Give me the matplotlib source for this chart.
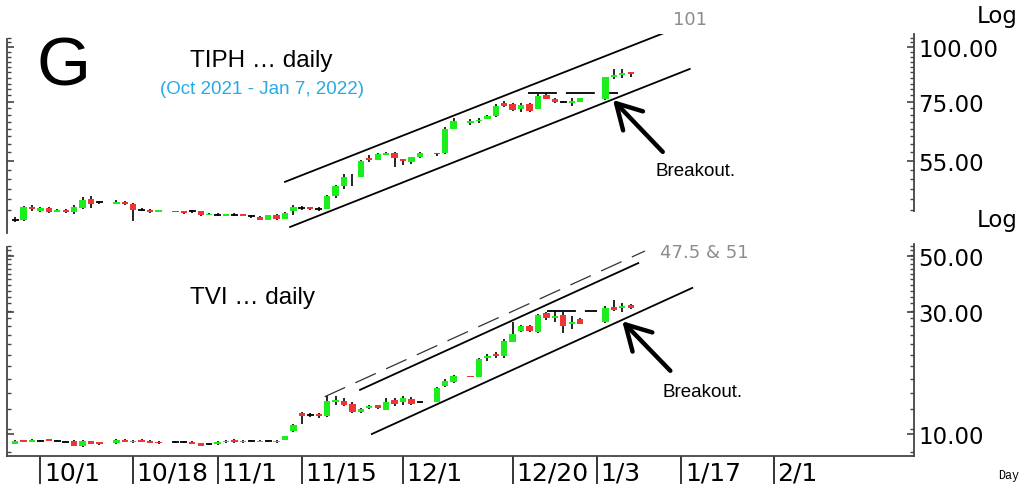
import matplotlib
matplotlib.use('Agg')
import matplotlib.pyplot as plt
from matplotlib.ticker import FixedLocator, NullFormatter
import numpy as np
import pandas as pd

# trading days shown (weekday axis), Sep 28 2021 - Jan 7 2022
dates = pd.bdate_range('2021-09-28', '2022-01-07')

# TIPH daily OHLC (None = no bar)
tiph_o = [40.3, 40.2, 43.0, 42.1, 42.8, 42.0, 42.4, 42.0, 42.8, 45.0, 44.2, None,
          43.8, 44.2, 43.9, 42.5, 42.4, 42.0, None, 42.2, 42.1, 42.1, 42.2, 41.4,
          41.4, 41.2, 41.4, 41.5, 41.0, 40.8, 40.3, 41.3, 40.5, 42.1, 42.9, 43.0,
          42.7, 42.7, 45.6, 48.2, 50.6, 50.6, 55.7, 55.3, 56.8, 57.2, 55.5, 54.5,
          56.0, None, 57.3, 57.3, 65.0, None, 67.2, 67.8, 68.5, 69.5, 74.5, 74.1,
          72.2, 74.1, 72.2, 77.7, 76.1, 75.0, 74.5, 75.0, None, None, 76.1, 85.3,
          86.3, 87.6]
tiph_h = [40.8, 43.4, 43.6, 43.1, 43.0, 42.7, 42.6, 43.6, 45.4, 45.6, 44.5, None,
          44.8, 44.4, 44.1, 42.9, 42.6, 42.5, None, 42.3, 42.3, 42.4, 42.3, 41.7,
          41.8, 41.6, 41.7, 41.6, 41.3, 41.0, 41.4, 41.5, 42.0, 43.6, 43.3, 43.2,
          43.2, 45.8, 48.5, 51.3, 51.3, 55.3, 56.7, 57.3, 57.5, 57.5, 55.5, 56.2,
          57.5, None, 57.4, 65.5, 68.7, None, 68.3, 68.7, 69.8, 74.1, 75.4, 74.5,
          74.5, 74.5, 78.0, 78.5, 76.5, 75.4, 76.3, 76.5, None, None, 85.5, 89.1,
          89.1, 87.8]
tiph_l = [39.8, 40.0, 42.1, 41.9, 41.7, 41.9, 41.7, 41.6, 42.6, 42.8, 43.9, None,
          43.7, 43.6, 40.0, 42.2, 41.8, 41.9, None, 41.9, 41.5, 41.8, 41.2, 41.3,
          41.0, 41.1, 41.1, 41.1, 40.6, 40.2, 40.2, 40.3, 40.4, 41.3, 42.5, 42.5,
          42.1, 42.6, 45.2, 47.4, 48.2, 50.4, 54.5, 55.1, 56.6, 53.1, 53.8, 54.1,
          55.8, None, 56.5, 57.0, 64.8, None, 66.4, 67.2, 68.3, 69.3, 72.8, 71.4,
          70.9, 71.0, 72.0, 76.0, 74.5, 74.6, 73.5, 74.8, None, None, 75.8, 84.5,
          84.9, 85.3]
tiph_c = [40.3, 43.2, 42.7, 42.9, 42.0, 42.5, 42.0, 43.2, 44.8, 43.8, 44.2, None,
          44.2, 43.8, 42.4, 42.5, 41.95, 42.35, None, 42.0, 41.7, 42.1, 41.4, 41.6,
          41.4, 41.5, 41.4, 41.2, 41.0, 40.3, 41.3, 40.5, 41.8, 43.2, 42.9, 42.7,
          42.7, 45.6, 48.2, 50.6, 50.4, 55.0, 55.2, 57.0, 57.2, 55.7, 55.0, 56.0,
          57.3, None, 57.0, 65.0, 67.9, None, 67.8, 68.1, 69.5, 73.5, 73.5, 71.9,
          73.7, 71.5, 77.4, 76.1, 74.8, 75.0, 75.4, 76.3, None, None, 85.3, 86.3,
          87.2, 86.8]

# TVI daily OHLC
tvi_o = [9.14, 9.47, 9.33, 9.41, 9.56, 9.41, 9.33, 9.41, 8.95, 9.36, 9.28, None,
         9.19, 9.50, 9.28, 9.50, 9.41, 9.33, None, 9.28, 9.28, 9.33, 9.19, 9.10,
         9.10, 9.28, 9.50, 9.28, 9.41, 9.33, 9.41, 9.28, 9.47, 10.25, 12.13, 11.87,
         11.98, 11.73, 13.4, 13.5, 13.1, 12.16, 12.6, 12.95, 12.45, 13.6, 13.3, 13.7,
         13.3, None, 13.4, 15.4, 16.0, None, 16.85, 16.8, 19.8, 20.6, 20.3, 23.0,
         25.3, 26.6, 25.2, 29.7, 28.4, 29.2, 27.0, 28.2, None, None, 27.4, 31.4,
         31.1, 32.0]
tvi_h = [9.45, 9.50, 9.55, 9.50, 9.60, 9.47, 9.40, 9.45, 9.45, 9.42, 9.30, None,
         9.60, 9.55, 9.45, 9.55, 9.45, 9.36, None, 9.35, 9.38, 9.36, 9.22, 9.14,
         9.36, 9.45, 9.55, 9.45, 9.47, 9.45, 9.47, 9.45, 9.82, 10.90, 12.15, 12.10,
         12.05, 14.13, 14.1, 13.8, 13.3, 12.6, 13.0, 13.0, 13.9, 13.9, 14.1, 14.0,
         13.4, None, 15.3, 16.5, 17.0, None, 16.9, 19.9, 20.6, 20.9, 23.6, 27.4,
         26.8, 26.8, 29.5, 30.2, 30.5, 30.2, 28.9, 28.4, None, None, 31.7, 33.6,
         32.5, 32.3]
tvi_l = [9.10, 9.30, 9.30, 9.35, 9.38, 9.35, 9.28, 8.95, 8.93, 9.10, 9.05, None,
         9.15, 9.30, 9.25, 9.30, 9.18, 9.15, None, 9.20, 9.18, 9.10, 8.95, 9.05,
         9.05, 9.25, 9.25, 9.25, 9.36, 9.30, 9.36, 9.25, 9.45, 10.20, 10.95, 11.70,
         11.60, 11.70, 13.0, 12.9, 12.1, 12.1, 12.5, 12.5, 12.4, 12.9, 13.0, 13.0,
         13.2, None, 13.3, 15.3, 15.9, None, 16.7, 16.7, 19.4, 19.9, 19.9, 22.9,
         25.2, 25.2, 25.0, 28.1, 27.6, 25.0, 25.7, 27.0, None, None, 27.3, 30.5,
         30.2, 31.0]
tvi_c = [9.41, 9.33, 9.50, 9.41, 9.41, 9.41, 9.33, 9.00, 9.41, 9.14, 9.14, None,
         9.47, 9.33, 9.41, 9.33, 9.22, 9.19, None, 9.28, 9.28, 9.14, 9.00, 9.10,
         9.33, 9.41, 9.28, 9.41, 9.41, 9.41, 9.41, 9.41, 9.79, 10.85, 11.73, 11.87,
         11.73, 13.51, 13.6, 13.0, 12.16, 12.53, 12.9, 12.6, 13.3, 13.1, 13.8, 13.1,
         13.3, None, 15.2, 16.2, 16.9, None, 16.8, 19.7, 20.2, 20.2, 23.2, 24.7,
         26.6, 25.3, 29.3, 28.4, 28.9, 26.6, 27.6, 27.1, None, None, 31.1, 30.7,
         31.9, 31.1]

# trend channels (day index from Oct 1, price)
tiph_upper = ([29.0, 74.4], [49.2, 108.5])
tiph_lower = ([29.6, 77.0], [38.8, 89.1])
tiph_resist = ([57.8, 68.5], [78.5, 78.5])
tvi_lower = ([39.3, 77.3], [10.0, 37.4])
tvi_upper = ([37.9, 70.9], [14.9, 46.8])
tvi_upper2 = ([33.7, 71.7], [14.0, 52.2])
tvi_resist = ([60.1, 66.0], [30.4, 30.4])

tick_dates = ['2021-10-01', '2021-10-18', '2021-11-01', '2021-11-15', '2021-12-01',
              '2021-12-20', '2022-01-03', '2022-01-17', '2022-02-01']
tick_labels = ['10/1', '10/18', '11/1', '11/15', '12/1', '12/20', '1/3', '1/17', '2/1']

UP = '#1bef1b'
DOWN = '#f03434'
TITLE_FONT = ['Liberation Sans', 'DejaVu Sans']


def day_index(d):
    return int(np.busday_count(np.datetime64('2021-10-01'), np.datetime64(pd.Timestamp(d).date())))


xs = np.array([day_index(d) for d in dates])


def candles(ax, o, h, l, c):
    for x, oo, hh, ll, cc in zip(xs, o, h, l, c):
        if oo is None:
            continue
        ax.vlines(x, ll, hh, color='black', lw=1.2, zorder=2)
        if cc == oo:
            ax.hlines(oo, x - 0.4, x + 0.4, color='black', lw=1.3, zorder=3)
        else:
            col = UP if cc > oo else DOWN
            ax.bar(x, abs(cc - oo), bottom=min(oo, cc), width=0.75, color=col,
                   edgecolor='none', zorder=3)


fig = plt.figure(figsize=(10.24, 4.85), dpi=100)
ax1 = fig.add_axes([7 / 1024, 1 - 237 / 485, 907 / 1024, 202 / 485])
ax2 = fig.add_axes([7 / 1024, 1 - 457 / 485, 907 / 1024, 212 / 485])

candles(ax1, tiph_o, tiph_h, tiph_l, tiph_c)
candles(ax2, tvi_o, tvi_h, tvi_l, tvi_c)

for ax in (ax1, ax2):
    ax.set_yscale('log')
    ax.set_xlim(-3.97, 103.6)
    ax.spines['top'].set_visible(False)
    for s in ('left', 'right', 'bottom'):
        ax.spines[s].set_color('#444444')
        ax.spines[s].set_linewidth(1.3)
    ax.yaxis.set_ticks_position('both')
    ax.tick_params(axis='y', which='both', direction='in', labelleft=False,
                   labelright=True, colors='#444444', labelcolor='black',
                   labelsize=16.5, pad=3)
    ax.tick_params(axis='y', which='major', length=5, width=1.2)
    ax.tick_params(axis='y', which='minor', length=3, width=1)
    ax.yaxis.set_minor_formatter(NullFormatter())

# top panel
ax1.set_ylim(37.0, 107.1)
ax1.spines['bottom'].set_visible(False)
ax1.spines['left'].set_bounds(37.5, 104.3)
ax1.spines['right'].set_bounds(42.2, 107.1)
ax1.yaxis.set_major_locator(FixedLocator([55, 75, 100]))
ax1.set_yticklabels(['55.00', '75.00', '100.00'])
ax1.yaxis.set_minor_locator(FixedLocator(np.arange(42.5, 107, 2.5)))
ax1.tick_params(axis='x', bottom=False, labelbottom=False)

ax1.plot(*tiph_upper, color='black', lw=1.3)
ax1.plot(*tiph_lower, color='black', lw=1.3)
ax1.plot(*tiph_resist, color='black', lw=1.3, dashes=(16, 5))

# bottom panel
ax2.set_ylim(8.2, 55.6)
ax2.spines['left'].set_bounds(8.2, 54.1)
ax2.yaxis.set_major_locator(FixedLocator([10, 30, 50]))
ax2.set_yticklabels(['10.00', '30.00', '50.00'])
ax2.yaxis.set_minor_locator(FixedLocator(np.arange(8.5, 55, 2.0)))

ax2.plot(*tvi_lower, color='black', lw=1.3)
ax2.plot(*tvi_upper, color='black', lw=1.3)
ax2.plot(*tvi_upper2, color='#333333', lw=0.9, dashes=(18, 9))
ax2.plot(*tvi_resist, color='black', lw=1.3, dashes=(16, 5))

tick_pos = [day_index(d) for d in tick_dates]
ax2.set_xticks(tick_pos)
ax2.tick_params(axis='x', direction='out', length=20, width=1.1, color='black',
                labelbottom=False)
for pos, lab in zip(tick_pos, tick_labels):
    ax2.annotate(lab, xy=(pos, 0), xycoords=('data', 'axes fraction'),
                 xytext=(2.5, -3), textcoords='offset points', ha='left', va='top',
                 fontsize=18, annotation_clip=False)

# breakout arrows
arrow = dict(arrowstyle='->,head_length=0.8,head_width=0.45', lw=3.2,
             color='black', mutation_scale=22, shrinkA=0, shrinkB=0)
ax1.annotate('', xy=(67.9, 75.7), xytext=(73.8, 57.6), arrowprops=arrow)
ax2.annotate('', xy=(69.0, 27.7), xytext=(74.7, 17.7), arrowprops=arrow)
ax1.text(72.9, 52.1, 'Breakout.', fontsize=13.5, family=TITLE_FONT, va='center')
ax2.text(73.8, 14.7, 'Breakout.', fontsize=13.5, family=TITLE_FONT, va='center')

# texts
fig.text(37 / 1024, 1 - 68 / 485, 'G', fontsize=50, family=TITLE_FONT, va='center')
fig.text(190 / 1024, 1 - 61 / 485, 'TIPH \u2026 daily', fontsize=17.5,
         family=TITLE_FONT, va='center')
fig.text(160 / 1024, 1 - 90 / 485, '(Oct 2021 - Jan 7, 2022)', fontsize=13.5,
         family=TITLE_FONT, va='center', color='#29a9e6')
fig.text(190 / 1024, 1 - 298 / 485, 'TVI \u2026 daily', fontsize=17.5,
         family=TITLE_FONT, va='center')
fig.text(673 / 1024, 1 - 20 / 485, '101', fontsize=13, color='#8c8c8c', va='center')
fig.text(660 / 1024, 1 - 253 / 485, '47.5 & 51', fontsize=13, color='#8c8c8c',
         va='center')
fig.text(977 / 1024, 1 - 16 / 485, 'Log', fontsize=16.5, va='center')
fig.text(977 / 1024, 1 - 221 / 485, 'Log', fontsize=16.5, va='center')
fig.text(998 / 1024, 1 - 476 / 485, 'Day', fontsize=8.5,
         family=['Liberation Mono', 'DejaVu Sans Mono'], va='center')

fig.savefig('out.png', dpi=100)
